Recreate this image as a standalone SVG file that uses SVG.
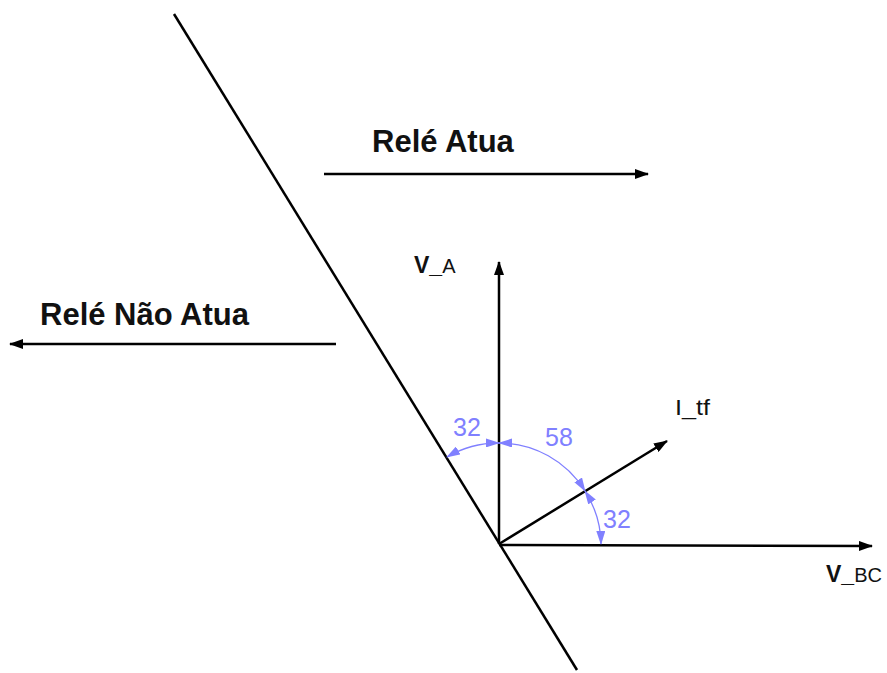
<svg xmlns="http://www.w3.org/2000/svg" width="887" height="673" viewBox="0 0 887 673">
<defs>
<marker id="ah" markerWidth="14" markerHeight="10" refX="13" refY="5" orient="auto" markerUnits="userSpaceOnUse" viewBox="0 0 14 10"><path d="M0,0 L14,5 L0,10 Z" fill="#000"/></marker>
<marker id="bh" markerWidth="14" markerHeight="9" refX="13" refY="4.5" orient="auto-start-reverse" markerUnits="userSpaceOnUse" viewBox="0 0 14 9"><path d="M0,0 L14,4.5 L0,9 Z" fill="#8080ff"/></marker>
<style>
.ln{stroke:#000;stroke-width:2.5;fill:none}
.arc{stroke:#8080ff;stroke-width:1.3;fill:none}
.bl{font-family:"Liberation Sans",Arial,sans-serif;font-weight:bold;fill:#111}
.nm{font-family:"Liberation Sans",Arial,sans-serif;fill:#111}
.num{font-family:"Liberation Sans",Arial,sans-serif;font-size:25px;fill:#8080ff}
</style>
</defs>
<rect width="887" height="673" fill="#fff"/>
<g id="connectors">
<line class="ln" x1="174" y1="14" x2="577" y2="670"/>
<line class="ln" x1="499" y1="544" x2="499" y2="262" marker-end="url(#ah)"/>
<line class="ln" x1="499" y1="545" x2="872" y2="546" marker-end="url(#ah)"/>
<line class="ln" x1="499" y1="544" x2="667" y2="441" marker-end="url(#ah)"/>
<line class="ln" x1="324" y1="174" x2="648" y2="174" marker-end="url(#ah)"/>
<line class="ln" x1="336" y1="344" x2="10" y2="344" marker-end="url(#ah)"/>
</g>
<g id="angles">
<path class="arc" d="M447,457 A101,101 0 0 1 499,443" marker-start="url(#bh)" marker-end="url(#bh)"/>
<path class="arc" d="M499,443 A101,101 0 0 1 585,491" marker-start="url(#bh)" marker-end="url(#bh)"/>
<path class="arc" d="M585,491 A101,101 0 0 1 601,544" marker-start="url(#bh)" marker-end="url(#bh)"/>
</g>
<g id="labels">
<text class="bl" x="372" y="152" font-size="31">Relé Atua</text>
<text class="bl" x="40" y="325" font-size="31">Relé Não Atua</text>
<text class="bl" x="414" y="273" font-size="23">V_<tspan font-weight="normal" font-size="20">A</tspan></text>
<text class="bl" x="826" y="582" font-size="23">V_<tspan font-weight="normal" font-size="20">BC</tspan></text>
<text class="nm" x="675" y="415" font-size="22" textLength="35" lengthAdjust="spacingAndGlyphs">I_tf</text>
<text class="num" x="453" y="436">32</text>
<text class="num" x="545" y="446">58</text>
<text class="num" x="603" y="528">32</text>
</g>
</svg>
